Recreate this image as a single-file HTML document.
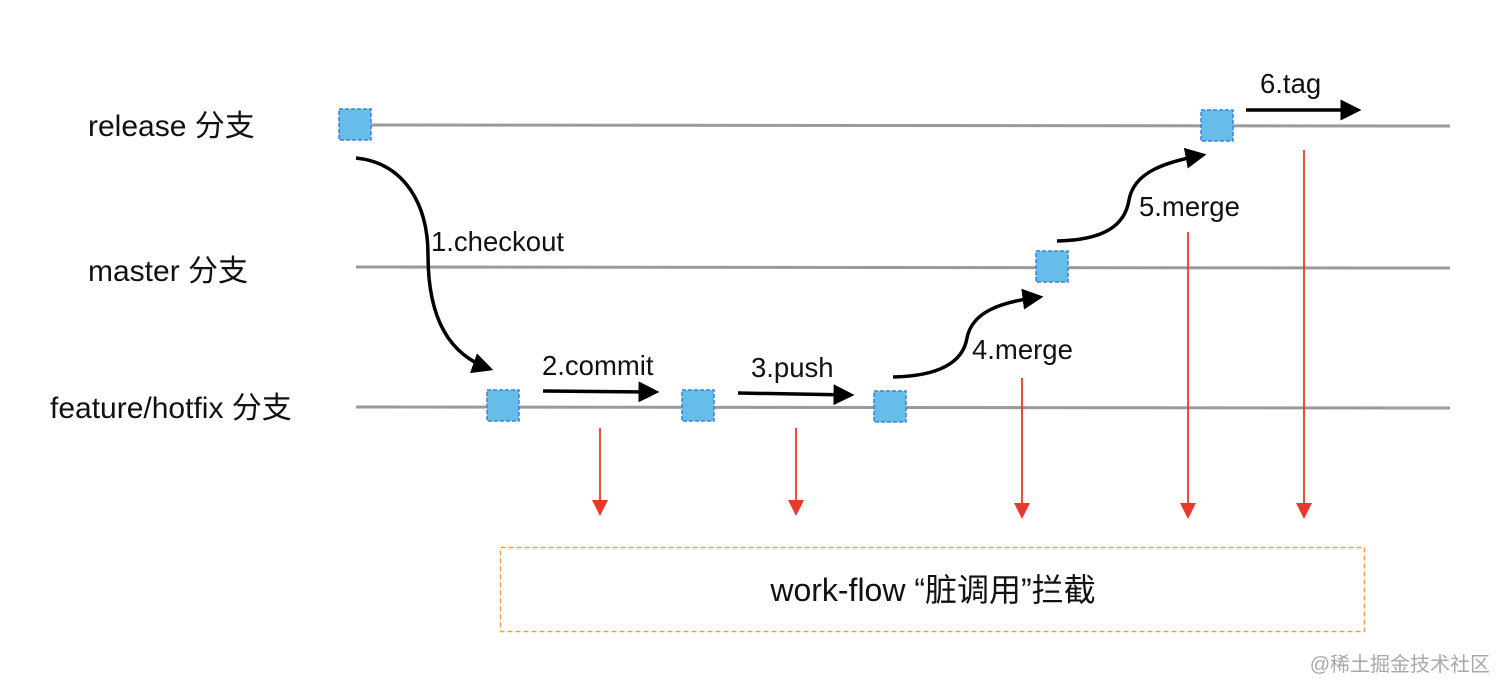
<!DOCTYPE html>
<html><head><meta charset="utf-8"><style>
html,body{margin:0;padding:0;background:#fff;width:1512px;height:697px;overflow:hidden}
svg{display:block}
text{font-family:"Liberation Sans","Noto Sans CJK SC",sans-serif;fill:#111}
</style></head><body>
<svg width="1512" height="697" viewBox="0 0 1512 697">
<defs>
<marker id="bk" markerWidth="6" markerHeight="6" refX="5" refY="3" orient="auto" markerUnits="strokeWidth"><path d="M0,0 L6,3 L0,6 z" fill="#000"/></marker>
</defs>
<g stroke="#9a9a9a" stroke-width="3">
<line x1="356" y1="125" x2="1450" y2="126"/>
<line x1="356" y1="267" x2="1450" y2="268"/>
<line x1="356" y1="407" x2="1450" y2="408"/>
</g>
<g font-size="30">
<text x="88" y="136">release 分支</text>
<text x="88" y="281">master 分支</text>
<text x="50" y="418">feature/hotfix 分支</text>
</g>
<g fill="#67bdea" stroke="#3b82e0" stroke-width="1.5" stroke-dasharray="4,2">
<rect x="339" y="109" width="32" height="31"/>
<rect x="487" y="390" width="32" height="31"/>
<rect x="682" y="390" width="32" height="31"/>
<rect x="874" y="391" width="32" height="31"/>
<rect x="1036" y="251" width="32" height="31"/>
<rect x="1201" y="110" width="32" height="31"/>
</g>
<g stroke="#000" stroke-width="3.5" fill="none" marker-end="url(#bk)">
<path d="M356,158 C405,163 428,205 428,255 C428,320 450,355 490,369"/>
<path d="M543,391 L656,392"/>
<path d="M738,393 L851,395"/>
<path d="M1246,110 L1358,110"/>
<path d="M893,377 C940,376 963,362 967,338 C972,312 1000,302 1040,297"/>
<path d="M1057,241 C1105,240 1125,225 1129,200 C1134,172 1165,162 1203,155"/>
</g>
<g font-size="27.5">
<text x="431" y="251">1.checkout</text>
<text x="542" y="375">2.commit</text>
<text x="751" y="377">3.push</text>
<text x="972" y="359">4.merge</text>
<text x="1139" y="216">5.merge</text>
<text x="1260" y="93">6.tag</text>
</g>
<g stroke="#e8392b" stroke-width="1.8">
<line x1="600" y1="428" x2="600" y2="502"/>
<line x1="796" y1="428" x2="796" y2="502"/>
<line x1="1022" y1="378" x2="1022" y2="505"/>
<line x1="1188" y1="232" x2="1188" y2="505"/>
<line x1="1304" y1="150" x2="1304" y2="505"/>
</g>
<g fill="#e8392b">
<path d="M592,500 L608,500 L600,516 z"/>
<path d="M788,500 L804,500 L796,516 z"/>
<path d="M1014,503 L1030,503 L1022,519 z"/>
<path d="M1180,503 L1196,503 L1188,519 z"/>
<path d="M1296,503 L1312,503 L1304,519 z"/>
</g>
<rect x="500.5" y="547.5" width="864" height="84" fill="none" stroke="#f0a050" stroke-width="1.5" stroke-dasharray="5,3"/>
<text x="933" y="601" font-size="32" text-anchor="middle">work-flow “脏调用”拦截</text>
<text x="1490" y="671" font-size="20" text-anchor="end" style="fill:#a8a8a8">@稀土掘金技术社区</text>
</svg>
</body></html>
